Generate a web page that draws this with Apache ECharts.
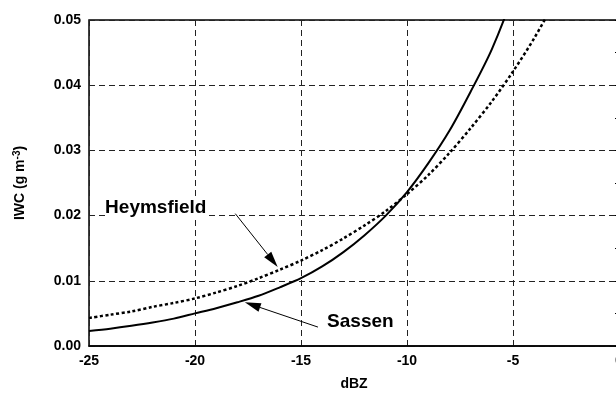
<!DOCTYPE html>
<html>
<head>
<meta charset="utf-8">
<script src="https://cdn.jsdelivr.net/npm/echarts@6/dist/echarts.min.js"></script>
<style>
  html, body { margin: 0; padding: 0; background: #fff; }
  #chart { width: 616px; height: 393px; }
</style>
</head>
<body>
<div id="chart"></div>
<script>
// Radar reflectivity (dBZ) and ice water content (g m^-3)
const dbz = [-25, -24, -23, -22, -21, -20, -19, -18, -17, -16, -15, -14,
             -13, -12, -11, -10, -9, -8, -7, -6, -5, -4, -3];
const sassenIWC = [0.0023, 0.00266, 0.0031, 0.0036, 0.0042, 0.0050, 0.0058,
                   0.0067, 0.0077, 0.0090, 0.0104, 0.0122, 0.0144, 0.0170,
                   0.0200, 0.0236, 0.0280, 0.0330, 0.0390, 0.0455, 0.0538,
                   0.0637, 0.0750];
const heymsfieldIWC = [0.0043, 0.0048, 0.0053, 0.0060, 0.0066, 0.0073, 0.0082,
                       0.0092, 0.0104, 0.0117, 0.0131, 0.0147, 0.0165, 0.0185,
                       0.0207, 0.0233, 0.0262, 0.0296, 0.0334, 0.0375, 0.0421,
                       0.0472, 0.0530];
const xTicks = [-25, -20, -15, -10, -5, 0];
const yTicks = [0.00, 0.01, 0.02, 0.03, 0.04, 0.05];

const FONT = '"Liberation Sans", Arial, sans-serif';

const chart = echarts.init(document.getElementById('chart'), null, { renderer: 'canvas' });

const pairs = (xs, ys) => xs.map((x, i) => [x, ys[i]]);

const gridLine = { show: true, lineStyle: { color: '#222', width: 1, type: [6, 4] } };
const yTickStyle = { show: true, inside: true, length: 4, lineStyle: { color: '#000', width: 1 } };

chart.setOption({
  animation: false,
  backgroundColor: '#fff',
  grid: {
    left: 89, width: 530, top: 20, bottom: 47,
    containLabel: false, outerBoundsMode: 'none',
    show: true, borderColor: '#000', borderWidth: 1.5, backgroundColor: 'transparent'
  },
  xAxis: {
    type: 'value',
    min: xTicks[0], max: xTicks[xTicks.length - 1], interval: 5,
    name: 'dBZ', nameLocation: 'middle', nameGap: 31,
    nameTextStyle: { fontFamily: FONT, fontWeight: 'bold', fontSize: 14, color: '#000' },
    axisLine: { show: true, onZero: false, lineStyle: { color: '#000', width: 1.5 } },
    axisTick: { show: false },
    axisLabel: { fontFamily: FONT, fontWeight: 'bold', fontSize: 14, color: '#000', margin: 8 },
    splitLine: gridLine
  },
  yAxis: [{
    type: 'value',
    min: yTicks[0], max: yTicks[yTicks.length - 1], interval: 0.01,
    name: '{a|IWC (g m}{s|-3}{a|)}', nameLocation: 'middle', nameGap: 60,
    nameTextStyle: {
      rich: {
        a: { fontFamily: FONT, fontWeight: 'bold', fontSize: 14, color: '#000' },
        s: { fontFamily: FONT, fontWeight: 'bold', fontSize: 10, color: '#000', verticalAlign: 'bottom', padding: [0, 0, 7, 0] }
      }
    },
    axisLine: { show: true, lineStyle: { color: '#000', width: 1.5 } },
    axisTick: yTickStyle,
    minorTick: { show: true, splitNumber: 2, length: 4, lineStyle: { color: '#000', width: 1 } },
    axisLabel: {
      fontFamily: FONT, fontWeight: 'bold', fontSize: 14, color: '#000', margin: 8,
      formatter: v => v.toFixed(2)
    },
    splitLine: gridLine
  }, {
    type: 'value', position: 'right',
    min: yTicks[0], max: yTicks[yTicks.length - 1], interval: 0.01,
    axisLine: { show: true, lineStyle: { color: '#000', width: 1.5 } },
    axisTick: yTickStyle,
    minorTick: { show: true, splitNumber: 2, length: 4, lineStyle: { color: '#000', width: 1 } },
    axisLabel: { show: false },
    splitLine: { show: false }
  }],
  series: [{
    name: 'Sassen',
    type: 'line',
    data: pairs(dbz, sassenIWC),
    showSymbol: false, smooth: 0.3, clip: true,
    lineStyle: { color: '#000', width: 2 }
  }, {
    name: 'Heymsfield',
    type: 'line',
    data: pairs(dbz, heymsfieldIWC),
    showSymbol: false, smooth: 0.3, clip: true,
    lineStyle: { color: '#000', width: 2.5, type: [3, 2.5] }
  }]
});

// Curve labels with leader arrows, placed in data coordinates
const labels = [
  { text: 'Heymsfield', at: [-21.85, 0.0212], from: [-18.1, 0.0203], to: [-16.1, 0.0121] },
  { text: 'Sassen', at: [-12.2, 0.00365], from: [-14.2, 0.0029], to: [-17.65, 0.0067] }
];

function arrowElements(p0, p1) {
  const dx = p1[0] - p0[0], dy = p1[1] - p0[1];
  const len = Math.hypot(dx, dy), ux = dx / len, uy = dy / len;
  const headLen = 16, halfW = 4.5;
  const bx = p1[0] - ux * headLen, by = p1[1] - uy * headLen;
  return [{
    type: 'line',
    shape: { x1: p0[0], y1: p0[1], x2: bx, y2: by },
    style: { stroke: '#000', lineWidth: 1 }
  }, {
    type: 'polygon',
    shape: { points: [[p1[0], p1[1]], [bx - uy * halfW, by + ux * halfW], [bx + uy * halfW, by - ux * halfW]] },
    style: { fill: '#000' }
  }];
}

const elements = [];
labels.forEach(l => {
  const a = chart.convertToPixel({ gridIndex: 0 }, l.from);
  const b = chart.convertToPixel({ gridIndex: 0 }, l.to);
  elements.push(...arrowElements(a, b));
  const c = chart.convertToPixel({ gridIndex: 0 }, l.at);
  elements.push({
    type: 'text', x: c[0], y: c[1],
    style: {
      text: l.text, fill: '#000', font: 'bold 19px ' + FONT,
      align: 'center', verticalAlign: 'middle', backgroundColor: '#fff'
    }
  });
});
chart.setOption({ graphic: { elements } });
</script>
</body>
</html>
